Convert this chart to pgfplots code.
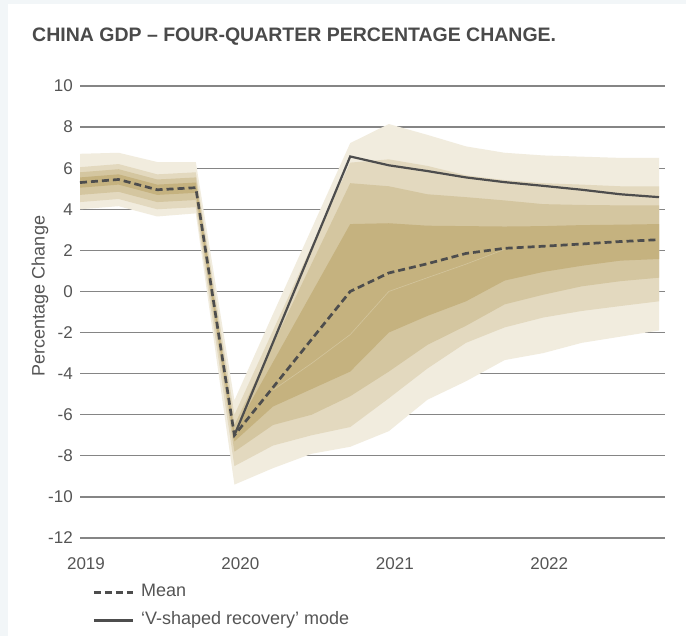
\documentclass[border=0pt]{standalone}
\usepackage{fontspec}
\setmainfont{Liberation Sans}
\usepackage{pgfplots}
\usepackage{pgfplotstable}
\pgfplotsset{compat=1.18}
\usepgfplotslibrary{fillbetween}

\definecolor{bandA}{HTML}{F1ECDE}
\definecolor{bandB}{HTML}{E3D9BF}
\definecolor{bandC}{HTML}{D4C6A0}
\definecolor{bandD}{HTML}{C5B27F}
\definecolor{seam}{HTML}{D3C59D}
\definecolor{txt}{HTML}{555555}
\definecolor{ttl}{HTML}{4A4A4A}
\definecolor{grd}{HTML}{858585}
\definecolor{ink}{HTML}{4D4D4D}
\definecolor{page}{HTML}{F2F6F8}

% quarters: 0 = 2019Q1 ... 15 = 2022Q4
\pgfplotstableread{
q mean u1 u2 u3 u4 l4 l3 l2 l1
0 5.30 6.70 6.05 5.80 5.55 5.05 4.70 4.35 4.00
1 5.45 6.75 6.20 5.95 5.70 5.20 4.85 4.50 4.15
2 4.95 6.30 5.70 5.45 5.20 4.70 4.35 4.00 3.65
3 5.05 6.30 5.80 5.55 5.30 4.80 4.45 4.10 3.80
4 -7.00 -5.30 -6.00 -6.50 -6.80 -7.30 -7.80 -8.50 -9.40
5 -4.67 -1.10 -1.90 -2.58 -3.44 -5.60 -6.50 -7.50 -8.60
6 -2.33 3.05 2.20 1.35 -0.08 -4.75 -6.00 -7.00 -7.90
7 0.00 7.22 6.27 5.27 3.28 -3.90 -5.10 -6.60 -7.56
8 0.90 8.15 6.43 5.12 3.32 -2.00 -3.90 -5.20 -6.80
9 1.35 7.62 6.11 4.73 3.20 -1.19 -2.60 -3.75 -5.27
10 1.85 7.06 5.65 4.59 3.18 -0.48 -1.67 -2.50 -4.37
11 2.10 6.75 5.42 4.43 3.16 0.53 -0.63 -1.75 -3.34
12 2.20 6.62 5.27 4.25 3.18 0.95 -0.16 -1.27 -3.00
13 2.31 6.56 5.20 4.21 3.23 1.25 0.25 -0.95 -2.50
14 2.43 6.50 5.12 4.19 3.25 1.50 0.50 -0.71 -2.20
15 2.52 6.50 5.12 4.19 3.28 1.58 0.67 -0.48 -1.90
}\fan

\pgfplotstableread{
q v
4 -7.00
5 -2.48
6 2.05
7 6.57
8 6.14
9 5.86
10 5.55
11 5.32
12 5.14
13 4.95
14 4.73
15 4.59
}\vmode

\pgfplotstableread{
q s
5 -4.80
6 -3.50
7 -2.10
8 0.00
9 0.67
10 1.33
11 2.05
}\seamline

\begin{document}
\begin{tikzpicture}
\node[anchor=west, inner sep=0, text=ttl,
  font=\bfseries\fontsize{19.5bp}{22bp}\selectfont] at (32bp,599bp)
  {CHINA GDP – FOUR-QUARTER PERCENTAGE CHANGE.};
\node[rotate=90, inner sep=0, text=txt,
  font=\fontsize{18bp}{21bp}\selectfont] at (40bp,340bp) {Percentage Change};

\begin{axis}[
    at={(80bp,98bp)}, anchor=south west,
    scale only axis, width=585bp, height=452bp,
    xmin=0, xmax=15.155, ymin=-12, ymax=10,
    clip=false,
    axis line style={draw=none},
    major tick length=0pt,
    ytick={-12,-10,-8,-6,-4,-2,0,2,4,6,8,10},
    yticklabels={-12,-10,-8,-6,-4,-2,0,2,4,6,8,10},
    xtick={0,4,8,12},
    xticklabels={2019,2020,2021,2022},
    ymajorgrids,
    grid style={grd, line width=1.3bp},
    tick label style={text=txt, font=\fontsize{17bp}{20bp}\selectfont},
    yticklabel style={inner sep=0pt, xshift=-7bp},
    xticklabel style={inner sep=0pt, anchor=north, yshift=-19bp, xshift=6bp},
    legend style={at={(rel axis cs:0.021,-0.099)}, anchor=north west,
        draw=none, fill=none, inner sep=0pt, text=txt,
        font=\fontsize{18bp}{21bp}\selectfont, row sep=9bp,
        nodes={inner sep=2bp, text height=12bp, text depth=3bp}},
    legend cell align=left,
    legend image code/.code={\draw[#1] (0bp,0bp) -- (39bp,0bp); \path (44bp,0bp);},
]
\begin{pgfonlayer}{axis background}
\fill[page] ([shift={(-80bp,-98bp)}]rel axis cs:0,0) rectangle ([shift={(606bp,538bp)}]rel axis cs:0,0);
\fill[white] ([shift={(-72bp,-98bp)}]rel axis cs:0,0) rectangle ([shift={(606bp,534bp)}]rel axis cs:0,0);
\end{pgfonlayer}

\addplot[draw=none, name path=U1, forget plot] table[x=q, y=u1] {\fan};
\addplot[draw=none, name path=U2, forget plot] table[x=q, y=u2] {\fan};
\addplot[draw=none, name path=U3, forget plot] table[x=q, y=u3] {\fan};
\addplot[draw=none, name path=U4, forget plot] table[x=q, y=u4] {\fan};
\addplot[draw=none, name path=L4, forget plot] table[x=q, y=l4] {\fan};
\addplot[draw=none, name path=L3, forget plot] table[x=q, y=l3] {\fan};
\addplot[draw=none, name path=L2, forget plot] table[x=q, y=l2] {\fan};
\addplot[draw=none, name path=L1, forget plot] table[x=q, y=l1] {\fan};
\addplot[bandA, forget plot] fill between[of=U1 and L1];
\addplot[bandB, forget plot] fill between[of=U2 and L2];
\addplot[bandC, forget plot] fill between[of=U3 and L3];
\addplot[bandD, forget plot] fill between[of=U4 and L4];
\addplot[seam, line width=0.6bp, forget plot] table[x=q, y=s] {\seamline};

\addplot[ink, line width=2.7bp, dash pattern=on 7bp off 4bp] table[x=q, y=mean] {\fan};
\addlegendentry{Mean}
\addplot[ink, line width=2.2bp] table[x=q, y=v] {\vmode};
\addlegendentry{‘V-shaped recovery’ mode}
\end{axis}
\end{tikzpicture}
\end{document}
